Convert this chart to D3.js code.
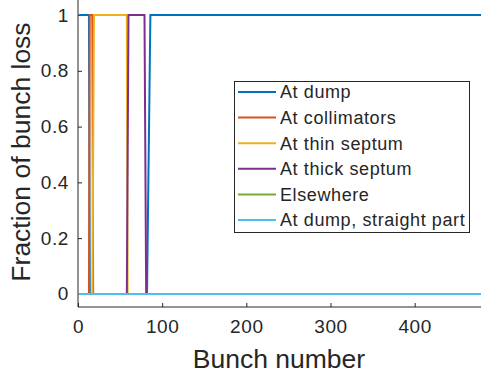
<!DOCTYPE html>
<meta charset="utf-8">
<script src="https://d3js.org/d3.v7.min.js"></script>
<style>
  body { margin: 0; background: #fff; }
  text { font-family: "Liberation Sans", Arial, sans-serif; fill: #262626; }
</style>
<body>
<div id="chart"></div>
<script>
  // series names and colors (MATLAB default order)
  const names = ["At dump", "At collimators", "At thin septum", "At thick septum", "Elsewhere", "At dump, straight part"];
  const colors = ["#0072BD", "#D95319", "#EDB120", "#7E2F8E", "#77AC30", "#4DBEEE"];

  // [bunch, fraction] break points
  const atDump       = [[1,1],[13,1],[14,0],[82,0],[86,1],[480,1]];
  const atColl       = [[1,0],[13,0],[14,1],[17,1],[18,0],[480,0]];
  const atThin       = [[1,0],[17,0],[19,1],[58,1],[59,0],[480,0]];
  const atThick      = [[1,0],[58,0],[60,1],[79,1],[81,0],[480,0]];
  const elsewhere    = [[1,0],[480,0]];
  const dumpStraight = [[1,0],[480,0]];
  const series = [atDump, atColl, atThin, atThick, elsewhere, dumpStraight];

  const xTicks = [0, 100, 200, 300, 400];
  const yTicks = [0, 0.2, 0.4, 0.6, 0.8, 1];

  const W = 481, H = 374;
  const svg = d3.select("#chart").append("svg")
    .attr("width", W).attr("height", H);

  const x = d3.scaleLinear().domain([0, 480]).range([78, 482]);
  const y = d3.scaleLinear().domain([-0.047, 1.054]).range([307, 0]);

  // axes (ticks point inward)
  svg.append("g")
    .attr("transform", `translate(0,${y.range()[0]})`)
    .call(d3.axisBottom(x).tickValues(xTicks).tickSize(-4).tickPadding(13).tickFormat(d3.format("d")))
    .call(g => g.select(".domain").attr("stroke", "#262626").attr("d", `M${x.range()[0]},0H${W + 2}`))
    .call(g => g.selectAll(".tick line").attr("stroke", "#262626"))
    .call(g => g.selectAll(".tick text").style("font-size", "19px").style("letter-spacing", "0.6px").attr("fill", "#262626"));

  svg.append("g")
    .attr("transform", `translate(${x.range()[0]},0)`)
    .call(d3.axisLeft(y).tickValues(yTicks).tickSize(-4).tickPadding(9).tickFormat(d => d === 0 || d === 1 ? d : d.toFixed(1)))
    .call(g => g.select(".domain").attr("stroke", "#262626").attr("d", `M0,${y.range()[0]}V-2`))
    .call(g => g.selectAll(".tick line").attr("stroke", "#262626"))
    .call(g => g.selectAll(".tick text").style("font-size", "19px").style("letter-spacing", "0.6px").attr("fill", "#262626"));

  // lines
  const line = d3.line().x(d => x(d[0])).y(d => y(d[1]));
  svg.append("g")
    .selectAll("path")
    .data(series)
    .join("path")
      .attr("fill", "none")
      .attr("stroke", (d, i) => colors[i])
      .attr("stroke-width", 2)
      .attr("d", line);

  // axis labels
  svg.append("text")
    .attr("x", 279).attr("y", 368)
    .attr("text-anchor", "middle")
    .style("font-size", "26.5px")
    .text("Bunch number");

  svg.append("text")
    .attr("transform", "translate(30,152) rotate(-90)")
    .attr("text-anchor", "middle")
    .style("font-size", "26.5px")
    .text("Fraction of bunch loss");

  // legend
  const lg = svg.append("g");
  lg.append("rect")
    .attr("x", 234.5).attr("y", 81.5).attr("width", 235).attr("height", 151)
    .attr("fill", "#fff").attr("stroke", "#262626").attr("stroke-width", 1);
  const rows = lg.selectAll("g.row")
    .data(names)
    .join("g")
      .attr("class", "row")
      .attr("transform", (d, i) => `translate(0,${92 + i * 25.6})`);
  rows.append("line")
    .attr("x1", 238).attr("x2", 276).attr("y1", 0).attr("y2", 0)
    .attr("stroke", (d, i) => colors[i]).attr("stroke-width", 2);
  rows.append("text")
    .attr("x", 280).attr("y", 0).attr("dy", "0.35em")
    .style("font-size", "18px")
    .style("letter-spacing", "0.6px")
    .text(d => d);
</script>
</body>
